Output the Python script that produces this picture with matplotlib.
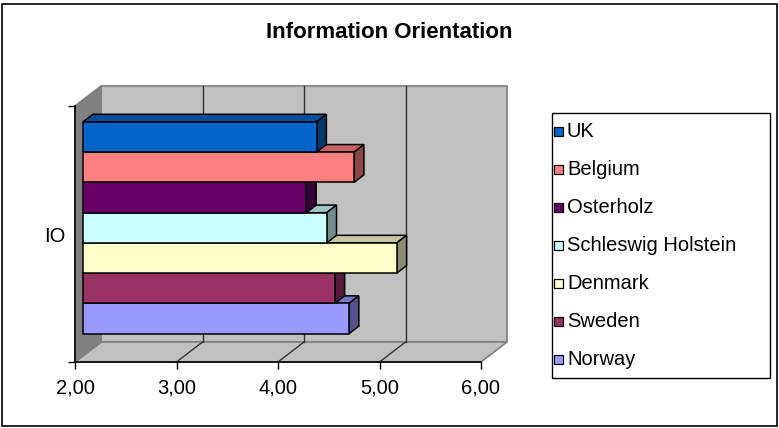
import matplotlib.pyplot as plt
from matplotlib.patches import Polygon, Rectangle
from matplotlib.colors import to_rgb

plt.rcParams['font.family'] = ['Liberation Sans', 'DejaVu Sans']

# datos
paises = ['UK', 'Belgium', 'Osterholz', 'Schleswig Holstein', 'Denmark', 'Sweden', 'Norway']
valores = [4.30, 4.67, 4.20, 4.40, 5.09, 4.48, 4.62]
colores = ['#0066CC', '#FF8080', '#660066', '#CCFFFF', '#FFFFCC', '#993366', '#9999FF']
ticks_x = [2, 3, 4, 5, 6]
etiquetas_x = ['2,00', '3,00', '4,00', '5,00', '6,00']
categoria = 'IO'
titulo = 'Information Orientation'


def oscurecer(color, f):
    r, g, b = to_rgb(color)
    return (r * f, g * f, b * f)


W, H = 779, 428
fig = plt.figure(figsize=(W / 100, H / 100), dpi=100)

# caja frontal del grafico 3D (pixeles: izq, arriba, der, abajo)
izq, arriba, der, abajo = 75, 106, 481, 362
ax = fig.add_axes([izq / W, 1 - abajo / H, (der - izq) / W, (abajo - arriba) / H])
ax.set_facecolor('none')

n = len(paises)
hueco = 0.73
y_max = n + 2 * hueco
x_min, x_max = ticks_x[0], ticks_x[-1]
ax.set_xlim(x_min, x_max)
ax.set_ylim(0, y_max)

# profundidad de la caja en pixeles -> unidades de datos
dx = 26 * (x_max - x_min) / (der - izq)
dy = 20 * y_max / (abajo - arriba)

gris_pared = '#C0C0C0'
gris_borde = '#808080'

# pared trasera, suelo y pared izquierda
pared = Polygon([(x_min + dx, dy), (x_max + dx, dy), (x_max + dx, y_max + dy), (x_min + dx, y_max + dy)],
                facecolor=gris_pared, edgecolor=gris_borde, lw=1.2, zorder=0, clip_on=False)
suelo = Polygon([(x_min, 0), (x_max, 0), (x_max + dx, dy), (x_min + dx, dy)],
                facecolor=gris_pared, edgecolor=gris_borde, lw=1.2, zorder=0, clip_on=False)
lateral = Polygon([(x_min, 0), (x_min + dx, dy), (x_min + dx, y_max + dy), (x_min, y_max)],
                  facecolor='#808080', edgecolor=gris_borde, lw=1.2, zorder=0.5, clip_on=False)
for p in (pared, suelo, lateral):
    ax.add_patch(p)

# lineas de division en la pared y el suelo
for t in ticks_x[1:-1]:
    ax.plot([t + dx, t + dx], [dy, y_max + dy], color='#333333', lw=1, zorder=1, clip_on=False)
    ax.plot([t, t + dx], [0, dy], color='#333333', lw=1, zorder=1, clip_on=False)

# barras 3D (de abajo hacia arriba para que tapen las caras superiores)
d0, d1 = 0.31, 0.69
for k in range(n - 1, -1, -1):
    i = n - 1 - k
    v = valores[k]
    y0 = hueco + i
    y1 = y0 + 1
    z = 3 + i
    frente = [(x_min + d0 * dx, y0 + d0 * dy), (v + d0 * dx, y0 + d0 * dy),
              (v + d0 * dx, y1 + d0 * dy), (x_min + d0 * dx, y1 + d0 * dy)]
    arriba_cara = [(x_min + d0 * dx, y1 + d0 * dy), (v + d0 * dx, y1 + d0 * dy),
                   (v + d1 * dx, y1 + d1 * dy), (x_min + d1 * dx, y1 + d1 * dy)]
    lado = [(v + d0 * dx, y0 + d0 * dy), (v + d1 * dx, y0 + d1 * dy),
            (v + d1 * dx, y1 + d1 * dy), (v + d0 * dx, y1 + d0 * dy)]
    ax.add_patch(Polygon(arriba_cara, facecolor=oscurecer(colores[k], 0.78), edgecolor='black',
                         lw=1.1, zorder=z, clip_on=False))
    ax.add_patch(Polygon(lado, facecolor=oscurecer(colores[k], 0.55), edgecolor='black',
                         lw=1.1, zorder=z, clip_on=False))
    ax.add_patch(Polygon(frente, facecolor=colores[k], edgecolor='black',
                         lw=1.1, zorder=z, clip_on=False))

# ejes
for lado_spine in ['top', 'right']:
    ax.spines[lado_spine].set_visible(False)
for lado_spine in ['left', 'bottom']:
    ax.spines[lado_spine].set_linewidth(1.2)
    ax.spines[lado_spine].set_zorder(2)

tam = 14.5
ax.set_xticks(ticks_x)
ax.set_xticklabels(etiquetas_x, fontsize=tam)
ax.tick_params(axis='x', length=5, width=1, pad=7)
ax.set_yticks([0, y_max])
ax.set_yticklabels(['', ''])
ax.set_yticks([y_max / 2], minor=True)
ax.set_yticklabels([categoria], minor=True, fontsize=tam)
ax.tick_params(axis='y', which='major', length=5, width=1)
ax.tick_params(axis='y', which='minor', length=0, pad=7)

# titulo
fig.text(0.5, 1 - 32 / H, titulo, ha='center', va='center', fontsize=16, fontweight='bold')

# leyenda (dibujada a mano para igualar la caja del original)
ley_izq, ley_arr, ley_der, ley_aba = 552, 112.5, 770, 377.5
fig.add_artist(Rectangle((ley_izq / W, 1 - ley_aba / H), (ley_der - ley_izq) / W, (ley_aba - ley_arr) / H,
                         transform=fig.transFigure, facecolor='white', edgecolor='black', lw=1))
paso = 38.05
for k, (nombre, c) in enumerate(zip(paises, colores)):
    yc = 131.5 + k * paso
    fig.add_artist(Rectangle((553.5 / W, 1 - (yc + 4.5) / H), 9 / W, 9 / H, transform=fig.transFigure,
                             facecolor=c, edgecolor='black', lw=0.9))
    fig.text(567 / W, 1 - yc / H, nombre, ha='left', va='center', fontsize=tam)

# borde exterior
fig.add_artist(Rectangle((2 / W, 2.5 / H), 774.5 / W, 421.5 / H, transform=fig.transFigure,
                         fill=False, edgecolor='black', lw=1.2))

plt.savefig('out.png', dpi=100)
